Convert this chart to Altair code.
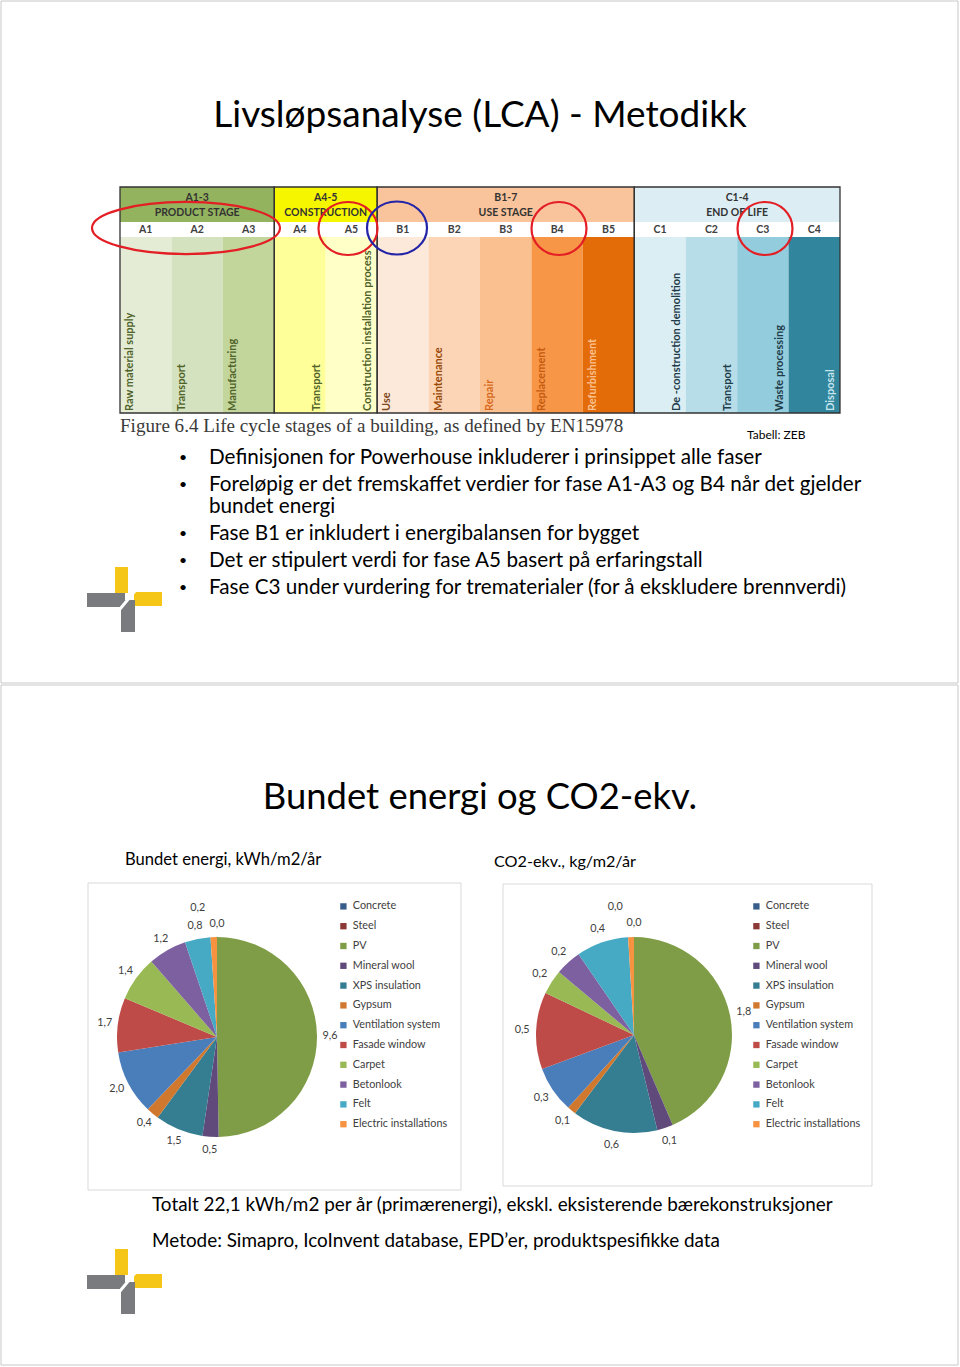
import altair as alt
import pandas as pd

FONT = "Lato"
SERIF = "Liberation Serif"

# ---------------- pie chart data ----------------
materials = ["Concrete", "Steel", "PV", "Mineral wool", "XPS insulation", "Gypsum",
             "Ventilation system", "Fasade window", "Carpet", "Betonlook", "Felt",
             "Electric installations"]
energy_values = [0.0, 0.0, 9.6, 0.5, 1.5, 0.4, 2.0, 1.7, 1.4, 1.2, 0.8, 0.2]
co2_values = [0.0, 0.0, 1.82, 0.11, 0.59, 0.06, 0.32, 0.53, 0.17, 0.18, 0.36, 0.04]
material_colors = ["#385d8a", "#8c3836", "#7f9d47", "#5f4a7b", "#357d91", "#d0782e",
                   "#4a7ebb", "#be4b48", "#98b954", "#7d60a0", "#46aac5", "#f69240"]

# ---------------- life-cycle figure data ----------------
stage_codes = ["A1", "A2", "A3", "A4", "A5", "B1", "B2", "B3", "B4", "B5",
               "C1", "C2", "C3", "C4"]
stage_names = ["Raw material supply", "Transport", "Manufacturing", "Transport",
               "Construction installation process", "Use", "Maintenance", "Repair",
               "Replacement", "Refurbishment", "De -construction demolition",
               "Transport", "Waste processing", "Disposal"]
stage_fill = ["#e4ecd6", "#d5e2bf", "#c2d59b", "#ffff99", "#ffffc8", "#fde9d9",
              "#fbd5b5", "#fac090", "#f79646", "#e36c09", "#dbeef4", "#b7dee8",
              "#93cddd", "#31859c"]
stage_text_color = ["#4f6228", "#4f6228", "#4f6228", "#4f6228", "#4f6228", "#7f4a1e",
                    "#984807", "#d86a1c", "#c55a11", "#fbc08f", "#1f3c4a", "#1f3c4a",
                    "#1f3c4a", "#c6e6ef"]
right_side_labels = {"A4", "A5", "C1", "C2", "C3", "C4"}

group_codes = ["A1-3", "A4-5", "B1-7", "C1-4"]
group_names = ["PRODUCT STAGE", "CONSTRUCTION", "USE STAGE", "END OF LIFE"]
group_first = [0, 3, 5, 10]
group_last = [3, 5, 10, 14]
group_fill = ["#93b35e", "#f6f600", "#f9c39b", "#dceef4"]

highlight_codes = ["A1-A3", "A5", "B1", "B4", "C3"]
highlight_colors = ["#e31e24", "#e31e24", "#2424a8", "#e31e24", "#e31e24"]

bullet_lines = [
    "Definisjonen for Powerhouse inkluderer i prinsippet alle faser",
    "Foreløpig er det fremskaffet verdier for fase A1-A3 og B4 når det gjelder",
    "bundet energi",
    "Fase B1 er inkludert i energibalansen for bygget",
    "Det er stipulert verdi for fase A5 basert på erfaringstall",
    "Fase C3 under vurdering for trematerialer (for å ekskludere brennverdi)",
]
bullet_starts = [True, True, False, True, True, True]

IDX = alt.Scale(domain=[0, 14], range=[120, 840], nice=False, zero=False)


def label_text(v):
    return f"{v:.1f}".replace(".", ",")


def text_layer(lines, ys, x, size, font=FONT, color="#000000", align="left",
               weight="normal", baseline="middle"):
    df = pd.DataFrame({"t": lines, "y": ys})
    return alt.Chart(df).mark_text(
        x=x, align=align, baseline=baseline, fontSize=size, font=font,
        color=color, fontWeight=weight
    ).encode(y=alt.Y("y:Q", scale=None, axis=None), text="t:N")


def pie(values, cx, cy, r, label_r, lx, ly):
    df = pd.DataFrame({"material": materials, "value": values,
                       "order": list(range(len(materials)))})
    labels = [label_text(v) for v in values]
    near, far = [], []
    for i, lab in enumerate(labels):
        if materials[i] == "Electric installations":
            near.append("")
            far.append(lab)
        elif i > 0 and values[i] == 0 and values[i - 1] == 0:
            near.append("")
            far.append("")
        else:
            near.append(lab)
            far.append("")
    df["near"] = near
    df["far"] = far
    base = alt.Chart(df).encode(
        theta=alt.Theta("value:Q", stack=True),
        order=alt.Order("order:Q"),
        x=alt.value(cx), y=alt.value(cy),
    )
    arcs = base.mark_arc(outerRadius=r).encode(
        color=alt.Color(
            "material:N",
            scale=alt.Scale(domain=materials, range=material_colors),
            sort=materials,
            legend=alt.Legend(
                orient="none", legendX=lx, legendY=ly, title=None,
                symbolType="square", symbolSize=40, symbolStrokeWidth=0,
                labelFont=FONT, labelFontSize=10.8, labelColor="#404040",
                rowPadding=7.8, padding=0, labelOffset=4, labelLimit=200,
            ),
        )
    )
    t_near = base.mark_text(radius=label_r, fontSize=10.8, font=FONT,
                            color="#404040").encode(text="near:N", detail="material:N")
    t_far = base.mark_text(radius=label_r + 16, dx=-15, fontSize=10.8, font=FONT,
                           color="#404040").encode(text="far:N", detail="material:N")
    return [arcs, t_near, t_far]


layers = []

# page (slide) frames
frames = pd.DataFrame({"x0": [1, 1], "x1": [958, 958], "y0": [1, 685], "y1": [683, 1365]})
layers.append(alt.Chart(frames).mark_rect(fill="white", stroke="#c8c8c8", strokeWidth=1).encode(
    x=alt.X("x0:Q", scale=None, axis=None), x2="x1:Q",
    y=alt.Y("y0:Q", scale=None, axis=None), y2="y1:Q"))

# ---------------- life-cycle figure ----------------
cols = pd.DataFrame({"code": stage_codes, "name": stage_names, "fill": stage_fill,
                     "tc": stage_text_color, "i": list(range(14))})
cols["i1"] = cols["i"] + 1
cols["ic"] = cols["i"] + 0.5
cols["il"] = [i + (0.83 if c in right_side_labels else 0.2) for i, c in zip(cols["i"], cols["code"])]

layers.append(alt.Chart(cols).mark_rect().encode(
    x=alt.X("i:Q", scale=IDX, axis=None), x2="i1:Q",
    y=alt.value(237), y2=alt.value(413),
    fill=alt.Fill("fill:N", scale=None)))

groups = pd.DataFrame({"code": group_codes, "name": group_names, "a": group_first,
                       "b": group_last, "fill": group_fill})
groups["c"] = (groups["a"] + groups["b"]) / 2
layers.append(alt.Chart(groups).mark_rect().encode(
    x=alt.X("a:Q", scale=IDX, axis=None), x2="b:Q",
    y=alt.value(187), y2=alt.value(222),
    fill=alt.Fill("fill:N", scale=None)))
layers.append(alt.Chart(groups).mark_rect(fill="white").encode(
    x=alt.X("a:Q", scale=IDX, axis=None), x2="b:Q",
    y=alt.value(222), y2=alt.value(237)))
layers.append(alt.Chart(groups).mark_rect(fill=None, stroke="#333333", strokeWidth=1.3).encode(
    x=alt.X("a:Q", scale=IDX, axis=None), x2="b:Q",
    y=alt.value(187), y2=alt.value(413)))
layers.append(alt.Chart(groups).mark_text(fontSize=10.5, font=FONT, fontWeight="bold",
                                          color="#333333", y=198).encode(
    x=alt.X("c:Q", scale=IDX, axis=None), text="code:N"))
layers.append(alt.Chart(groups).mark_text(fontSize=10.5, font=FONT, fontWeight="bold",
                                          color="#333333", y=213).encode(
    x=alt.X("c:Q", scale=IDX, axis=None), text="name:N"))
layers.append(alt.Chart(cols).mark_text(fontSize=10.5, font=FONT, fontWeight="bold",
                                        color="#404040", y=229.5).encode(
    x=alt.X("ic:Q", scale=IDX, axis=None), text="code:N"))
layers.append(alt.Chart(cols).mark_text(fontSize=11, font=FONT, fontWeight="bold",
                                        angle=270, align="left", baseline="middle",
                                        y=411, limit=174, ellipsis="").encode(
    x=alt.X("il:Q", scale=IDX, axis=None), text="name:N",
    color=alt.Color("tc:N", scale=None)))

# highlight ellipses
def ellipse_path(ratio):
    return f"M -1 0 A 1 {ratio} 0 1 1 1 0 A 1 {ratio} 0 1 1 -1 0 Z"

hl = pd.DataFrame({
    "code": highlight_codes, "color": highlight_colors,
    "cx": [186, 348, 397, 559, 765], "cy": [228, 228.5, 228, 228.5, 228.5],
    "rx": [94, 29.5, 30, 27.5, 27.5], "ry": [26, 26.5, 26.5, 26.5, 26.5],
})
hl["size"] = (2 * hl["rx"]) ** 2
hl["shape"] = [ellipse_path(round(ry / rx, 3)) for rx, ry in zip(hl["rx"], hl["ry"])]
layers.append(alt.Chart(hl).mark_point(filled=False, strokeWidth=2.2, opacity=1).encode(
    x=alt.X("cx:Q", scale=None, axis=None), y=alt.Y("cy:Q", scale=None, axis=None),
    size=alt.Size("size:Q", scale=None, legend=None),
    shape=alt.Shape("shape:N", scale=None, legend=None),
    stroke=alt.Stroke("color:N", scale=None)))

# caption
layers.append(text_layer(["Figure 6.4 Life cycle stages of a building, as defined by EN15978"],
                         [426], 120, 19.1, font=SERIF, color="#3a3a3a"))
layers.append(text_layer(["Tabell: ZEB"], [435], 747, 12, color="#000000"))

# titles
layers.append(text_layer(["Livsløpsanalyse (LCA) - Metodikk"], [116], 480, 37, align="center"))
layers.append(text_layer(["Bundet energi og CO2-ekv."], [798], 480, 36.4, align="center"))

# bullets
bullet_y = [458, 485, 507, 534, 561, 588]
layers.append(text_layer(bullet_lines, bullet_y, 209, 20.7))
layers.append(text_layer(["•" for b in bullet_starts if b],
                         [y for y, b in zip(bullet_y, bullet_starts) if b], 179, 14))

# chart subtitles & footer
layers.append(text_layer(["Bundet energi, kWh/m2/år"], [860], 125, 16.6))
layers.append(text_layer(["CO2-ekv., kg/m2/år"], [862], 494, 16.2))
layers.append(text_layer(["Totalt 22,1 kWh/m2 per år (primærenergi), ekskl. eksisterende bærekonstruksjoner",
                          "Metode: Simapro, IcoInvent database, EPD’er, produktspesifikke data"],
                         [1205, 1241], 152, 18.9))

# chart boxes
boxes = pd.DataFrame({"x0": [88, 503], "x1": [461, 872], "y0": [883, 884], "y1": [1190, 1186]})
layers.append(alt.Chart(boxes).mark_rect(fill="white", stroke="#d9d9d9", strokeWidth=1).encode(
    x=alt.X("x0:Q", scale=None, axis=None), x2="x1:Q",
    y=alt.Y("y0:Q", scale=None, axis=None), y2="y1:Q"))

# pies
layers += pie(energy_values, 217, 1037, 100, 113, 338, 901)
layers += pie(co2_values, 634, 1035, 98, 112, 751, 901)

# logos
logo_parts = pd.DataFrame({
    "x0": [115, 87, 134, 121], "x1": [128, 125, 162, 135],
    "y0": [567, 593, 592, 600], "y1": [593, 607, 606, 632],
    "fill": ["#f5c518", "#7a7b7e", "#f5c518", "#7a7b7e"],
})
for off in [0, 682]:
    lp = logo_parts.copy()
    lp["y0"] = lp["y0"] + off
    lp["y1"] = lp["y1"] + off
    layers.append(alt.Chart(lp).mark_rect().encode(
        x=alt.X("x0:Q", scale=None, axis=None), x2="x1:Q",
        y=alt.Y("y0:Q", scale=None, axis=None), y2="y1:Q",
        fill=alt.Fill("fill:N", scale=None)))
    cut = pd.DataFrame({"x0": [120], "x1": [135], "y0": [609 + off], "y1": [591 + off]})
    layers.append(alt.Chart(cut).mark_rule(color="white", strokeWidth=3).encode(
        x=alt.X("x0:Q", scale=None, axis=None), x2="x1:Q",
        y=alt.Y("y0:Q", scale=None, axis=None), y2="y1:Q"))

chart = alt.layer(*layers).resolve_scale(
    x="independent", y="independent", theta="independent", color="independent",
    fill="independent", stroke="independent", size="independent", shape="independent",
).properties(
    width=960, height=1367, padding=0,
    autosize=alt.AutoSizeParams(type="none"),
).configure_view(strokeWidth=0)

chart.save("out.html", embed_options={"renderer": "svg", "actions": False})
